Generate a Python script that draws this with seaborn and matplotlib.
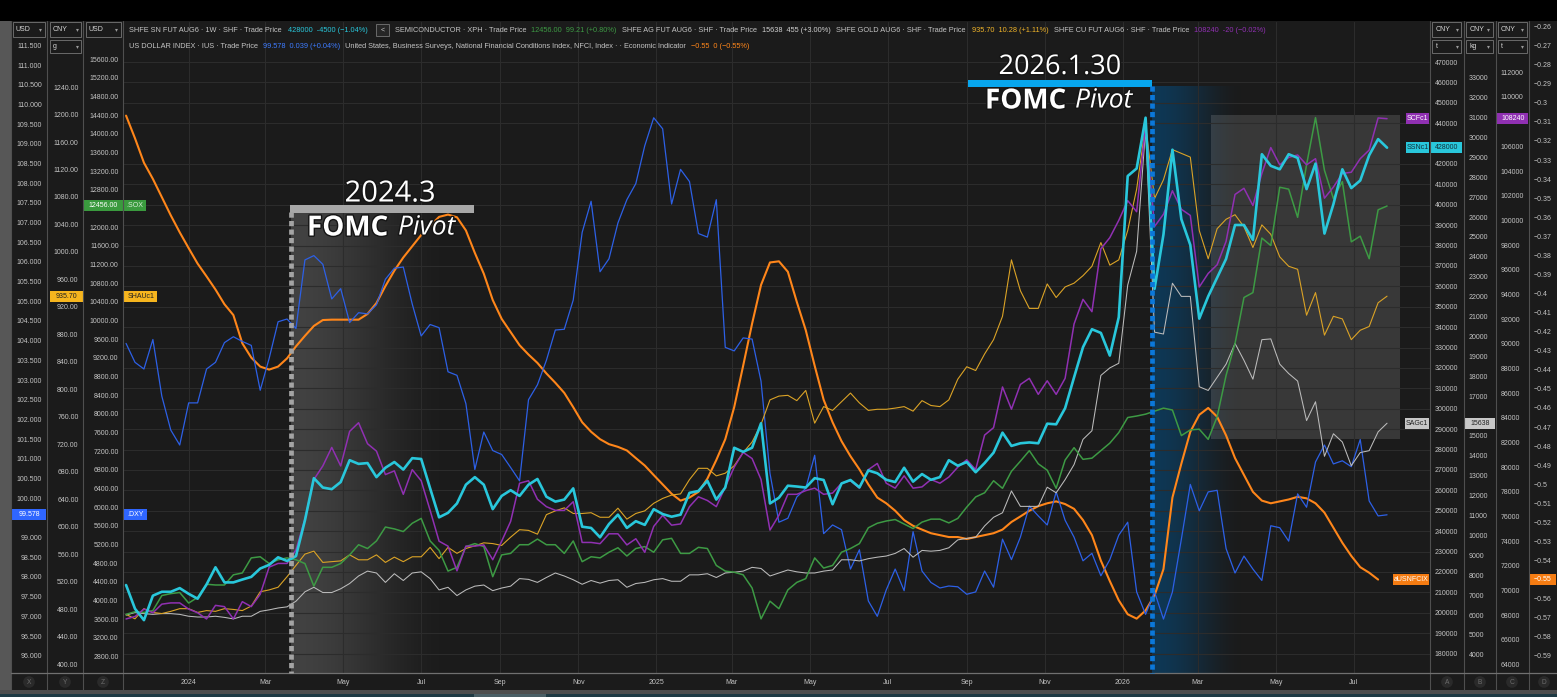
import numpy as np
import pandas as pd
import seaborn as sns
import matplotlib.pyplot as plt
import matplotlib.dates as mdates
import matplotlib.patheffects as pe
from matplotlib.patches import Rectangle
from matplotlib.ticker import FixedLocator, FuncFormatter

# weekly closes
weeks = pd.date_range('2023-11-13', periods=142, freq='7D')

tin = [213600, 202000, 196400, 208400, 210300, 210300, 212100, 209300, 206900, 213900,
       222300, 214900, 214900, 216300, 217600, 221700, 223500, 227200, 225400, 227800,
       245300, 266000, 261400, 260600, 264100, 274800, 273000, 273400, 266500, 271100,
       273900, 270200, 275800, 275400, 261000, 246800, 249000, 253600, 262800, 266500,
       262800, 250800, 257300, 260100, 257300, 262800, 265600, 256900, 254500, 255500,
       261000, 242200, 241600, 237000, 243500, 248100, 241600, 244900, 243100, 250800,
       248400, 247100, 248100, 258800, 259700, 264700, 255500, 261400, 280900, 278900,
       280900, 292900, 253600, 256400, 262300, 261900, 261400, 266000, 265100, 253200,
       263400, 265100, 261500, 269800, 268400, 265200, 264100, 271100, 264300, 268000,
       265200, 266500, 274800, 272100, 273900, 268900, 273400, 278500, 288300, 281800,
       283100, 283500, 283100, 292700, 292400, 300300, 315400, 330200, 339000, 337200,
       326100, 344900, 414100, 417800, 442700, 358800, 385500, 427000, 392900, 380300,
       344200, 355100, 364300, 373500, 390100, 390100, 382800, 424800, 419100, 417400,
       424800, 423000, 407700, 420200, 385900, 400300, 417400, 408200, 411900, 424300,
       432200, 428000]

copper = [67700, 67900, 68500, 68200, 68900, 69000, 69000, 68500, 68200, 67700,
          68800, 68700, 67700, 69100, 68700, 69700, 71900, 72200, 72200, 73300,
          75800, 79000, 80100, 81600, 80100, 82900, 83600, 81900, 81300, 79400,
          79700, 77800, 79800, 78900, 76500, 74000, 73600, 71600, 73600, 73600,
          73700, 72500, 74000, 75600, 78700, 78900, 77400, 76800, 76500, 76500,
          77200, 73900, 73900, 73800, 74600, 74600, 73700, 74200, 73100, 75200,
          76100, 75300, 75400, 76800, 77600, 77300, 76800, 78400, 80000, 81200,
          80700, 79000, 74900, 76100, 77800, 77800, 78100, 78300, 77800, 77900,
          78700, 78900, 78300, 79800, 80300, 78700, 78300, 79300, 78300, 78400,
          79000, 78700, 79200, 80000, 80600, 79800, 82600, 83200, 86500, 84700,
          86700, 87200, 85900, 87000, 85900, 87200, 91600, 93600, 92600, 97700,
          98600, 100000, 101600, 100700, 107700, 99500, 100500, 102400, 100900, 100400,
          94600, 95700, 96400, 98300, 102100, 102600, 101200, 103800, 105900, 104500,
          105100, 105300, 104500, 105000, 101800, 102700, 103800, 103900, 105000, 105700,
          108300, 108240]

dxy = [103.93, 103.45, 103.28, 104.03, 102.59, 101.73, 101.35, 102.42, 102.42, 103.28,
       103.45, 103.95, 104.10, 103.98, 103.88, 102.74, 103.55, 104.48, 104.55, 104.31,
       106.05, 106.16, 105.94, 105.06, 105.32, 104.46, 104.71, 104.68, 104.91, 105.56,
       105.84, 105.87, 104.93, 104.12, 104.41, 104.33, 103.21, 103.12, 102.40, 100.73,
       101.68, 101.21, 101.11, 100.78, 100.44, 102.50, 102.88, 103.50, 104.27, 104.29,
       105.03, 106.75, 107.54, 105.75, 106.08, 106.99, 107.58, 107.99, 108.95, 109.66,
       109.38, 107.47, 108.35, 108.04, 106.72, 106.63, 107.58, 103.83, 103.74, 104.07,
       104.04, 102.97, 100.63, 99.39, 99.49, 100.03, 100.25, 101.09, 99.10, 99.32,
       99.20, 98.20, 98.69, 97.39, 97.00, 97.67, 98.20, 97.65, 99.15, 98.15,
       97.86, 97.72, 97.77, 97.75, 97.56, 97.62, 98.15, 97.74, 98.96, 98.44,
       99.01, 99.80, 99.55, 99.32, 100.16, 99.44, 99.01, 98.41, 98.60, 98.03,
       98.44, 99.06, 99.39, 97.62, 97.05, 97.62, 96.93, 97.62, 98.96, 100.35,
       99.68, 100.16, 100.20, 98.72, 98.10, 98.53, 98.20, 97.91, 99.30, 99.25,
       98.91, 100.11, 99.77, 100.92, 101.35, 100.87, 100.95, 100.80, 101.49, 99.93,
       99.55, 99.578]

sox = [3705, 3762, 3745, 3786, 4108, 4149, 4173, 3947, 4068, 4350,
       4334, 4334, 4552, 4592, 4915, 4939, 4794, 4874, 4915, 4874,
       4794, 4310, 4713, 4713, 4794, 4979, 5197, 5116, 5278, 5576,
       5536, 5479, 5657, 5761, 5278, 5076, 4632, 4713, 5157, 5221,
       5157, 4512, 4979, 5011, 5197, 5197, 5318, 5197, 5197, 5011,
       5278, 4834, 4939, 4915, 5036, 5132, 4955, 5116, 5157, 5036,
       5302, 5334, 5011, 5011, 5141, 5116, 4753, 4632, 4608, 4552,
       4270, 3608, 3987, 3826, 4229, 4390, 4471, 4915, 4697, 4753,
       5036, 5116, 5221, 5560, 5657, 5705, 5737, 5640, 5544, 5681,
       5745, 5745, 5665, 5761, 6003, 6221, 6310, 6568, 6406, 6770,
       6987, 7213, 6931, 6794, 6406, 7011, 7277, 7027, 7052, 7213,
       7374, 7600, 7923, 7955, 7995, 8060, 8124, 8084, 7536, 7657,
       7673, 7455, 7939, 8826, 9511, 10495, 10600, 11769, 11608, 12858,
       12817, 12213, 13342, 14350, 13221, 12616, 12979, 11688, 11809, 11326,
       12374, 12456]

gold = [472.7, 466.2, 481.0, 475.5, 473.9, 477.1, 481.0, 481.0, 475.5, 478.2,
        477.1, 481.0, 479.9, 478.2, 484.8, 505.6, 508.3, 512.2, 527.5, 543.9,
        560.4, 564.7, 548.3, 549.4, 550.5, 559.3, 552.1, 552.1, 559.3, 548.3,
        556.0, 549.4, 556.5, 556.5, 570.2, 553.8, 570.2, 561.5, 568.6, 572.4,
        576.8, 575.7, 573.0, 585.0, 595.9, 594.9, 589.4, 617.8, 623.3, 627.7,
        619.5, 619.5, 620.6, 614.0, 614.0, 627.2, 611.3, 619.5, 623.3, 634.3,
        641.4, 646.3, 648.0, 668.8, 685.2, 685.2, 674.2, 678.1, 689.0, 708.2,
        723.5, 749.2, 784.8, 790.3, 791.4, 783.7, 798.5, 750.9, 775.0, 769.5,
        782.1, 794.7, 780.4, 769.5, 771.1, 771.1, 772.8, 775.0, 768.4, 783.7,
        776.6, 775.0, 784.8, 814.9, 833.0, 827.5, 851.6, 872.4, 906.4, 988.5,
        943.6, 917.9, 917.9, 953.5, 933.7, 949.1, 954.6, 965.5, 979.2, 1013.7,
        980.8, 988.5, 1031.2, 1091.4, 1184.5, 1077.7, 1105.1, 1148.9, 1143.4, 1138.0,
        1031.2, 990.1, 1033.9, 1047.6, 1054.2, 1036.7, 1006.5, 1039.4, 1025.7, 992.9,
        979.2, 974.8, 908.0, 940.9, 879.0, 906.4, 902.6, 872.4, 886.1, 891.6,
        926.1, 935.7]

silver = [5994, 6127, 6070, 6032, 6070, 6070, 6032, 5938, 5900, 5900,
          5938, 5881, 5805, 5938, 5938, 6183, 6259, 6353, 6410, 6694,
          7166, 7393, 7129, 7129, 7318, 7583, 7961, 8206, 8112, 7639,
          8074, 7734, 8112, 8169, 7829, 7261, 7393, 6977, 7261, 7450,
          7507, 7223, 7356, 7450, 7829, 7791, 7639, 7885, 8112, 7961,
          7772, 7545, 7734, 7601, 7734, 7772, 7393, 7583, 7639, 7772,
          7829, 7696, 7696, 8018, 8018, 8074, 7885, 8112, 8150, 8206,
          8395, 8339, 7961, 8112, 8263, 8169, 8112, 8112, 8206, 8263,
          8774, 8774, 8717, 8831, 8906, 8963, 9095, 9341, 8906, 9246,
          9208, 9246, 9379, 9776, 9851, 9908, 10476, 10911, 11137, 12234,
          11459, 11459, 11459, 12423, 12140, 12802, 13558, 14825, 15260, 18040,
          18418, 18650, 22578, 24280, 30426, 20214, 20120, 22673, 22011, 22011,
          17472, 17283, 17945, 18607, 19647, 18796, 17850, 19836, 19874, 18607,
          18134, 17756, 15770, 16716, 13974, 15109, 14693, 13501, 14163, 14258,
          15203, 15638]

nfci = [-0.3067, -0.3186, -0.3314, -0.3399, -0.3495, -0.3590, -0.3679, -0.3762, -0.3843, -0.3910,
        -0.3979, -0.4056, -0.4113, -0.4261, -0.4336, -0.4383, -0.4399, -0.4383, -0.4340, -0.4277,
        -0.4222, -0.4170, -0.4139, -0.4137, -0.4137, -0.4137, -0.4137, -0.4107, -0.4050, -0.3961,
        -0.3880, -0.3811, -0.3752, -0.3693, -0.3645, -0.3598, -0.3586, -0.3600, -0.3669, -0.3787,
        -0.3896, -0.4034, -0.4133, -0.4202, -0.4271, -0.4320, -0.4364, -0.4419, -0.4468, -0.4521,
        -0.4596, -0.4675, -0.4725, -0.4764, -0.4790, -0.4804, -0.4823, -0.4863, -0.4902, -0.4952,
        -0.5001, -0.5050, -0.5086, -0.5070, -0.5040, -0.4971, -0.4873, -0.4764, -0.4596, -0.4379,
        -0.4158, -0.3955, -0.3837, -0.3831, -0.3886, -0.4044, -0.4192, -0.4379, -0.4557, -0.4675,
        -0.4774, -0.4853, -0.4922, -0.5001, -0.5070, -0.5100, -0.5139, -0.5188, -0.5218, -0.5238,
        -0.5257, -0.5267, -0.5277, -0.5277, -0.5287, -0.5277, -0.5267, -0.5257, -0.5238, -0.5198,
        -0.5169, -0.5139, -0.5115, -0.5100, -0.5090, -0.5104, -0.5129, -0.5188, -0.5267, -0.5401,
        -0.5508, -0.5609, -0.5682, -0.5705, -0.5662, -0.5583, -0.5445, -0.5070, -0.4892, -0.4725,
        -0.4636, -0.4600, -0.4646, -0.4744, -0.4863, -0.4952, -0.5040, -0.5086, -0.5100, -0.5090,
        -0.5080, -0.5066, -0.5074, -0.5100, -0.5149, -0.5228, -0.5307, -0.5376, -0.5435, -0.5464,
        -0.5500]

# colours
C_SN, C_CU, C_DXY, C_SOX = '#29c7db', '#9030b2', '#2d60e6', '#3d9a44'
C_AU, C_AG, C_NF = '#dba326', '#bcbcbc', '#ff861a'
BG = '#1b1b1b'
TXT = '#c4c4c4'

# value ranges of each scale (bottom, top of the plot area)
lim_sn = (170488, 489608)
lim_ag = (3086, 35799)
lim_cu = (63320, 116076)
lim_nf = (-0.5990, -0.2576)
lim_dxy = (95.561, 112.092)
lim_au = (387.4, 1334.6)
lim_sox = (2448, 16399)

W, H = 1557, 697
PL, PR, PT, PB = 123.5, 1430.5, 22, 673
FS = 5.0      # small ui text
FS_LEG = 5.3  # legend rows

sns.set_style('dark')
plt.rcParams['font.family'] = ['Liberation Sans', 'DejaVu Sans']
plt.rcParams['axes.unicode_minus'] = True
BIG = ['Open Sans', 'DejaVu Sans']

fig = plt.figure(figsize=(W / 100, H / 100), dpi=100, facecolor=BG)


def py_of(v, lim):
    lo, hi = lim
    return PT + (hi - v) / (hi - lo) * (PB - PT)


# background layer in pixel coordinates
bg = fig.add_axes([0, 0, 1, 1], zorder=-5)
bg.axis('off')


def hgrad(ax_, x0, x1, y0, y1, rgb, amax, n=300):
    t = np.linspace(0, 1, n)
    a = amax * (1 - (3 * t ** 2 - 2 * t ** 3))
    img = np.zeros((1, n, 4))
    img[0, :, :3] = rgb
    img[0, :, 3] = a
    ax_.imshow(img, extent=(x0, x1, y1, y0), aspect='auto', interpolation='bilinear')


hgrad(bg, 291, 455, 212, PB, (0.29, 0.29, 0.29), 0.85)
hgrad(bg, 1152, 1245, 86, PB, (0.05, 0.24, 0.38), 0.85)
bg.add_patch(Rectangle((1211, 115), 189, 324, fc='white', alpha=0.13, ec='none'))
bg.set_xlim(0, W)
bg.set_ylim(H, 0)

# main plot axes (tin scale carries the grid)
ax = fig.add_axes([PL / W, 1 - PB / H, (PR - PL) / W, (PB - PT) / H])
ax.patch.set_visible(False)


def spine_pos(px):
    return (px - PL) / (PR - PL)


def fmt(f):
    return FuncFormatter(lambda v, p: f(v))


a_nf = ax.twinx()
a_dxy = ax.twinx()
a_ag = ax.twinx()
a_au = ax.twinx()
a_sox = ax.twinx()
a_cu = ax.twinx()
a_sn = ax.twinx()

axis_specs = [
    (ax, lim_sn, range(180000, 470001, 10000), lambda v: f'{v:.0f}', 'right', 1431, tin[-1]),
    (a_ag, lim_ag, range(4000, 33001, 1000), lambda v: f'{v:.0f}', 'right', 1465, silver[-1]),
    (a_cu, lim_cu, range(64000, 112001, 2000), lambda v: f'{v:.0f}', 'right', 1497, copper[-1]),
    (a_nf, lim_nf, np.round(np.arange(-0.59, -0.2599, 0.01), 2),
     lambda v: f'{v:g}'.replace('-', '\u2212'), 'right', 1530, nfci[-1]),
    (a_dxy, lim_dxy, np.arange(96.0, 111.51, 0.5), lambda v: f'{v:.3f}', 'left', 46, dxy[-1]),
    (a_au, lim_au, range(400, 1241, 40), lambda v: f'{v:.2f}', 'left', 82.5, gold[-1]),
    (a_sox, lim_sox, range(2800, 15601, 400), lambda v: f'{v:.2f}', 'left', 122.5, sox[-1]),
]

for a, lim, ticks, f, side, px, last in axis_specs:
    a.set_ylim(*lim)
    # the last-value tag hides the tick label it sits on
    y_tag = py_of(last, lim)
    shown = [t for t in ticks if abs(py_of(t, lim) - y_tag) > 8]
    a.yaxis.set_major_locator(FixedLocator(shown))
    a.yaxis.set_major_formatter(fmt(f))
    if side == 'right':
        a.yaxis.set_ticks_position('right')
        a.spines['right'].set_position(('axes', spine_pos(px)))
    else:
        a.yaxis.set_ticks_position('left')
        a.spines['left'].set_position(('axes', spine_pos(px)))
    a.tick_params(axis='y', length=0, pad=2.8, labelsize=FS, labelcolor=TXT)
    for s in a.spines.values():
        s.set_visible(False)

a_sn.set_yticks([])
for s in a_sn.spines.values():
    s.set_visible(False)

series = [
    (a_nf, weeks[:len(nfci)], nfci, C_NF, 1.5, lim_nf),
    (a_dxy, weeks, dxy, C_DXY, 0.9, lim_dxy),
    (a_ag, weeks, silver, C_AG, 0.75, lim_ag),
    (a_au, weeks, gold, C_AU, 0.8, lim_au),
    (a_sox, weeks, sox, C_SOX, 1.1, lim_sox),
    (a_cu, weeks, copper, C_CU, 1.1, lim_cu),
    (a_sn, weeks, tin, C_SN, 1.9, lim_sn),
]
for z, (a, x, y, c, lw, lim) in enumerate(series, start=1):
    a.set_zorder(z)
    sns.lineplot(x=x, y=y, ax=a, color=c, linewidth=lw, legend=False)
    a.set_xlabel('')
    a.set_ylabel('')
    a.set_ylim(*lim)
    a.grid(False)

ax.set_zorder(0)
ax.set_xlim(pd.Timestamp('2023-11-11'), pd.Timestamp('2026-08-30'))
ax.xaxis.set_major_locator(mdates.MonthLocator(bymonth=[1, 3, 5, 7, 9, 11]))
ax.xaxis.set_major_formatter(FuncFormatter(
    lambda v, p: str(mdates.num2date(v).year) if mdates.num2date(v).month == 1
    else mdates.num2date(v).strftime('%b')))
ax.tick_params(axis='x', length=0, pad=4.5, labelsize=FS, labelcolor=TXT)
ax.grid(True, axis='both', color='#2c2c2c', linewidth=0.8)

# foreground layer in pixel coordinates
fg = fig.add_axes([0, 0, 1, 1], zorder=20)
fg.axis('off')
fg.set_xlim(0, W)
fg.set_ylim(H, 0)

fg.add_patch(Rectangle((0, 0), W, 21, fc='black', ec='none'))
fg.add_patch(Rectangle((0, 21), 11, 669, fc='#575757', ec='none'))
fg.add_patch(Rectangle((0, 690), W, 3.5, fc='#4e4e4e', ec='none'))
fg.add_patch(Rectangle((0, 693.5), W, 4, fc='#1e3a44', ec='none'))
fg.add_patch(Rectangle((474, 693.5), 72, 4, fc='#4a5f66', ec='none'))

for xs in [11, 47, 83.5, 123.5, 1430.5, 1464.5, 1496, 1529.5]:
    fg.plot([xs, xs], [21, 690], color='#4f4f4f', lw=0.8)
fg.plot([11, W], [673, 673], color='#707070', lw=0.9)


def header(x0, x1, y0, y1, label):
    fg.add_patch(Rectangle((x0, y0), x1 - x0, y1 - y0, fc=BG, ec='#6a6a6a', lw=0.7))
    fg.text(x0 + 3, (y0 + y1) / 2, label, color='#d6d6d6', fontsize=FS, ha='left', va='center')
    fg.text(x1 - 3, (y0 + y1) / 2, '\u25be', color='#9a9a9a', fontsize=4.2, ha='right',
            va='center', family=['DejaVu Sans'])


header(13, 45, 22, 37, 'USD')
header(50, 81.5, 22, 37, 'CNY')
header(50, 81.5, 39.5, 53, 'g')
header(86, 121, 22, 37, 'USD')
for x0, x1, unit in [(1432.5, 1461.5, 't'), (1466.5, 1493, 'kg'), (1498, 1527, 't')]:
    header(x0, x1, 22, 37, 'CNY')
    header(x0, x1, 39.5, 53, unit)


def tag(x0, x1, yc, text, fc, tc, h=11):
    fg.add_patch(Rectangle((x0, yc - h / 2), x1 - x0, h, fc=fc, ec='none'))
    fg.text((x0 + x1) / 2, yc, text, color=tc, fontsize=FS, ha='center', va='center')


y_sn = py_of(tin[-1], lim_sn)
y_cu = py_of(copper[-1], lim_cu)
y_ag = py_of(silver[-1], lim_ag)
y_nf = py_of(nfci[-1], lim_nf)
y_dxy = py_of(dxy[-1], lim_dxy)
y_au = py_of(gold[-1], lim_au)
y_sox = py_of(sox[-1], lim_sox)

tag(1431, 1462, y_sn, f'{tin[-1]}', C_SN, '#10303a')
tag(1465, 1495.5, y_ag, f'{silver[-1]}', '#c8c8c8', '#222222')
tag(1497, 1528.5, y_cu, f'{copper[-1]}', C_CU, 'white')
tag(1530, 1556, y_nf, f'{nfci[-1]:.2f}'.replace('-', '\u2212'), '#f57c12', 'white')
tag(12, 46.5, y_dxy, f'{dxy[-1]:.3f}', '#2f66ff', 'white')
tag(50, 83, y_au, f'{gold[-1]:.2f}', '#f6b51e', '#222222')
tag(84, 123, y_sox, f'{sox[-1]:.2f}', '#3a9a3e', 'white')

tag(124.5, 146, y_sox, '.SOX', '#3a9a3e', '#d8ecd8')
tag(124.5, 157, y_au, 'SHAUc1', '#f6b51e', '#222222')
tag(124.5, 147, y_dxy, '.DXY', '#2f66ff', 'white')
tag(1406, 1429.5, y_cu, 'SCFc1', C_CU, 'white')
tag(1406, 1429.5, y_sn, 'SSNc1', C_SN, '#10303a')
tag(1405, 1429.5, y_ag, 'SAGc1', '#c8c8c8', '#222222')
tag(1393, 1429.5, y_nf, 'aUSNFCIX', '#f57c12', 'white')

for x, letter in [(29, 'X'), (65, 'Y'), (103, 'Z'), (1447, 'A'), (1480, 'B'), (1512, 'C'), (1544, 'D')]:
    fg.text(x, 682, letter, color='#6c6c6c', fontsize=4.8, ha='center', va='center',
            bbox=dict(boxstyle='circle,pad=0.35', fc='#2a2a2a', ec='none'))

# top legend rows, laid out left to right without overlaps
row1 = [(129, 'SHFE SN FUT AUG6 \u00b7 1W \u00b7 SHF \u00b7 Trade Price', TXT),
        (288, '428000  -4500 (\u22121.04%)', C_SN),
        (395, 'SEMICONDUCTOR \u00b7 XPH \u00b7 Trade Price', TXT),
        (531, '12456.00  99.21 (+0.80%)', C_SOX),
        (620, 'SHFE AG FUT AUG6 \u00b7 SHF \u00b7 Trade Price', TXT),
        (754, '15638  455 (+3.00%)', '#d0d0d0'),
        (833, 'SHFE GOLD AUG6 \u00b7 SHF \u00b7 Trade Price', TXT),
        (972, '935.70  10.28 (+1.11%)', '#f0b429'),
        (1048, 'SHFE CU FUT AUG6 \u00b7 SHF \u00b7 Trade Price', TXT),
        (1184, '108240  -20 (\u22120.02%)', C_CU)]
row2 = [(129, 'US DOLLAR INDEX \u00b7 IUS \u00b7 Trade Price', TXT),
        (259, '99.578  0.039 (+0.04%)', '#3d7bff'),
        (344, 'United States, Business Surveys, National Financial Conditions Index, NFCI, Index \u00b7 \u00b7 Economic Indicator', TXT),
        (689, '\u22120.55  0 (\u22120.55%)', C_NF)]

renderer = fig.canvas.get_renderer()
for yrow, row in [(30, row1), (46, row2)]:
    end = 0
    for x, s, c in row:
        if s == 'SEMICONDUCTOR \u00b7 XPH \u00b7 Trade Price':
            bx = max(377, end + 4)
            fg.add_patch(Rectangle((bx - 0.5, 24), 13, 12, fc='#262626', ec='#6a6a6a', lw=0.7))
            fg.text(bx + 6, 30, '<', color='#d0d0d0', fontsize=FS, ha='center', va='center')
            end = bx + 13
        t = fg.text(max(x, end + 5), yrow, s, color=c, fontsize=FS_LEG, ha='left', va='center')
        bb = t.get_window_extent(renderer)
        end = bb.x1

# FOMC pivot annotations
glow = [pe.withStroke(linewidth=2, foreground='#151515')]
fg.add_patch(Rectangle((290, 205), 184, 7.5, fc='#a8a8a8', ec='none'))
fg.plot([291, 291], [212, PB], color='#a4a4a4', lw=3.4, ls=(0, (1.1, 0.7)), solid_capstyle='butt')
fg.text(390, 194, '2024.3', color='white', fontsize=21, ha='center', va='center',
        family=BIG, path_effects=glow)
fg.text(307, 228, 'FOMC', color='white', fontsize=20, fontweight='bold', ha='left',
        va='center', family=BIG, path_effects=glow)
fg.text(398, 228, 'Pivot', color='white', fontsize=19, style='italic', ha='left',
        va='center', family=BIG, path_effects=glow)

fg.add_patch(Rectangle((968, 80), 184, 6.5, fc='#07a6ee', ec='none'))
fg.plot([1152, 1152], [86, PB], color='#0b78da', lw=3.4, ls=(0, (1.1, 0.7)), solid_capstyle='butt')
fg.text(1060, 67, '2026.1.30', color='white', fontsize=19.5, ha='center', va='center',
        family=BIG, path_effects=glow)
fg.text(985, 101, 'FOMC', color='white', fontsize=20, fontweight='bold', ha='left',
        va='center', family=BIG, path_effects=glow)
fg.text(1075, 101, 'Pivot', color='white', fontsize=19, style='italic', ha='left',
        va='center', family=BIG, path_effects=glow)

fig.savefig('out.png', dpi=100, facecolor=BG)
